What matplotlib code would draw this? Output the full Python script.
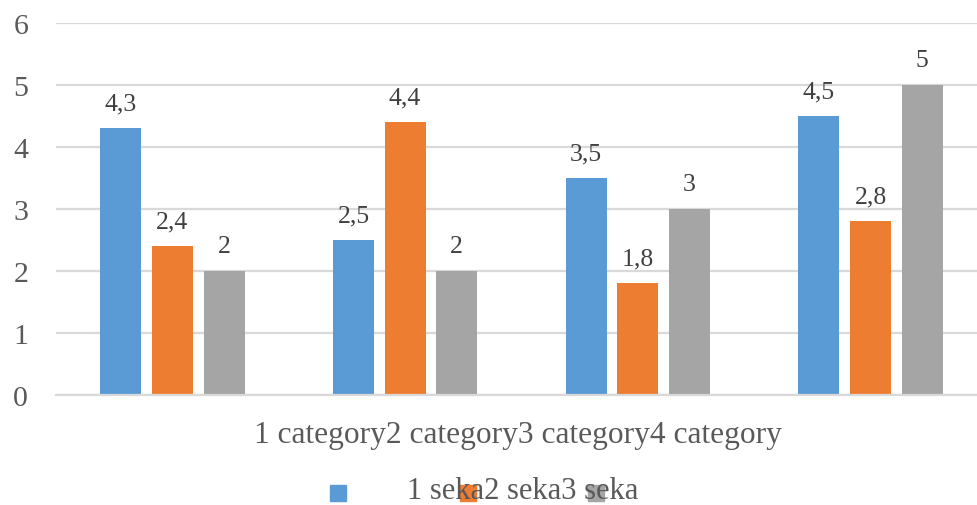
import matplotlib.pyplot as plt
from matplotlib.patches import Rectangle
import numpy as np

plt.rcParams['font.family'] = ['Liberation Serif', 'DejaVu Serif']

# 数据
categories = ['1 category', '2 category', '3 category', '4 category']
series_names = ['1 seka', '2 seka', '3 seka']
series_1 = [4.3, 2.5, 3.5, 4.5]
series_2 = [2.4, 4.4, 1.8, 2.8]
series_3 = [2, 2, 3, 5]
colors = ['#5B9BD5', '#ED7D31', '#A5A5A5']

W, H = 978, 506
fig = plt.figure(figsize=(W / 100, H / 100), dpi=100)
ax = fig.add_axes([56 / W, 1 - 396 / H, 931 / W, 372 / H])

x = np.arange(len(categories))
offset = 0.222
width = 0.176
for i, (vals, c) in enumerate(zip([series_1, series_2, series_3], colors)):
    bars = ax.bar(x + (i - 1) * offset, vals, width, color=c, zorder=2)
    for b, v in zip(bars, vals):
        ax.annotate(f'{v:g}'.replace('.', ','),
                    (b.get_x() + b.get_width() / 2, b.get_height()),
                    xytext=(0, 18), textcoords='offset points',
                    ha='center', va='center', fontsize=18.5, color='#404040')

ax.set_xlim(-0.5, 3.5)
ax.set_ylim(0, 6)
ax.set_yticks(range(7))
ax.set_xticks([])
ax.grid(axis='y', color='#D9D9D9', lw=1.6, zorder=0)
for s in ['top', 'right', 'left']:
    ax.spines[s].set_visible(False)
ax.spines['bottom'].set_color('#D9D9D9')
ax.spines['bottom'].set_linewidth(1.6)
ax.tick_params(axis='y', length=0, pad=20, labelsize=21.5, labelcolor='#595959')

# 分类标签（挤在一起）
fig.text(518 / W, 1 - 435 / H, ''.join(categories), ha='center', va='center',
         fontsize=22.6, color='#595959')

# 图例
for xp, c in zip([330, 460, 588], colors):
    fig.add_artist(Rectangle((xp / W, 1 - 502 / H), 16 / W, 16 / H,
                             transform=fig.transFigure, color=c, zorder=1))
fig.text(407 / W, 1 - 492 / H, ''.join(series_names), ha='left', va='center',
         fontsize=22, color='#595959', zorder=3)

fig.savefig('out.png', dpi=100)
